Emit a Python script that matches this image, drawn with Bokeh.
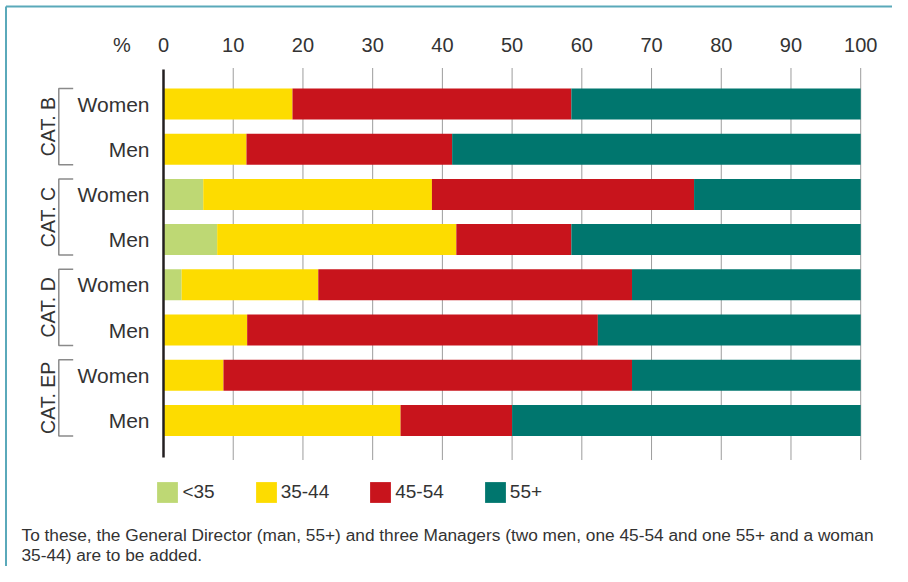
import math
from bokeh.plotting import figure
from bokeh.models import ColumnDataSource, Range1d, Legend, LegendItem, Label
from bokeh.core.properties import value
from bokeh.embed import file_html
from bokeh.resources import INLINE

# ---------------- data ----------------
categories = ["CAT. B", "CAT. C", "CAT. D", "CAT. EP"]
genders = ["Women", "Men"]
age_groups = ["<35", "35-44", "45-54", "55+"]
lt35   = [0.0, 0.0, 5.7, 7.7, 2.6, 0.0, 0.0, 0.0]
a35_44 = [18.5, 11.9, 32.8, 34.3, 19.6, 12.0, 8.6, 34.0]
a45_54 = [40.0, 29.5, 37.6, 16.5, 45.0, 50.3, 58.6, 16.0]
a55p   = [41.5, 58.6, 23.9, 41.5, 32.8, 37.7, 32.8, 50.0]
x_ticks = [0, 10, 20, 30, 40, 50, 60, 70, 80, 90, 100]
unit_label = "%"
footnote = ["To these, the General Director (man, 55+) and three Managers (two men, one 45-54 and one 55+ and a woman",
            "35-44) are to be added."]

# ---------------- styles / layout (pixels) ----------------
colors = ["#BED874", "#FDDC00", "#C8141C", "#00766E"]
TEXT = "#333333"
TEAL_FRAME = "#5AA9BA"
FONT = "Liberation Sans"
W, H = 892, 566
PX = 6.972      # pixels per percent point
X0 = 163        # pixel position of 0 %
ROW = 45.2      # row pitch (px)
ROW0 = 103.5    # first row centre (px from top)
BAR_H = 0.686


def xd(px):
    """horizontal pixel position -> data value"""
    return (px - X0) / PX


def yd(px):
    """vertical pixel position -> row value"""
    return (px - ROW0) / ROW


rows = list(range(len(categories) * len(genders)))
row_labels = [g for _ in categories for g in genders]
stackers = ["lt35", "a35_44", "a45_54", "a55p"]
source = ColumnDataSource(dict(row=rows, label=row_labels, lt35=lt35,
                               a35_44=a35_44, a45_54=a45_54, a55p=a55p))

x_range = Range1d(xd(0), xd(W))
y_range = Range1d(yd(H), yd(0))

p = figure(width=W, height=H, x_range=x_range, y_range=y_range,
           x_axis_location=None, y_axis_location=None,
           output_backend="svg", toolbar_location=None,
           min_border=0)
p.outline_line_color = None
p.background_fill_color = "white"
p.border_fill_color = "white"
p.xgrid.visible = False
p.ygrid.visible = False

# teal frame on the top and left edges
p.segment(x0=[xd(5.5), xd(5.5)], y0=[yd(6), yd(6)], x1=[xd(W), xd(5.5)], y1=[yd(6), yd(H)],
          line_color=TEAL_FRAME, line_width=2)

# tick labels (top) and unit label
p.text(x=x_ticks, y=[yd(44)] * len(x_ticks), text=[str(t) for t in x_ticks],
       text_align="center", text_baseline="middle",
       text_font=value(FONT), text_font_size=value("20px"), text_color=TEXT)
p.text(x=[xd(121.5)], y=[yd(44)], text=[unit_label],
       text_align="center", text_baseline="middle",
       text_font=value(FONT), text_font_size=value("20px"), text_color=TEXT)

# dotted grid lines
grid_x = [t for t in x_ticks if t > 0]
p.segment(x0=grid_x, y0=[yd(68)] * len(grid_x), x1=grid_x, y1=[yd(459)] * len(grid_x),
          line_color="#3a3a3a", line_width=1, line_dash="1 1")

# bars
renderers = p.hbar_stack(stackers, y="row", height=BAR_H, source=source,
                         fill_color=colors, line_color=None)

# zero axis line
p.segment(x0=[0], y0=[yd(69)], x1=[0], y1=[yd(457)],
          line_color="#231F20", line_width=2.5)

# row labels
p.text(x=0, y="row", text="label", source=source, x_offset=-14,
       text_align="right", text_baseline="middle",
       text_font=value(FONT), text_font_size=value("21px"), text_color=TEXT)

# category brackets and labels
bx, bx_end = xd(58.3), xd(72.7)
xs, ys, cy = [], [], []
for k, _ in enumerate(categories):
    r0 = k * len(genders)
    r1 = r0 + len(genders) - 1
    xs.append([bx_end, bx, bx, bx_end])
    ys.append([r0 - BAR_H / 2, r0 - BAR_H / 2, r1 + BAR_H / 2, r1 + BAR_H / 2])
    cy.append((r0 + r1) / 2)
p.multi_line(xs=xs, ys=ys, line_color="#8a8a8a", line_width=1.5)
p.text(x=[xd(47)] * len(categories), y=cy, text=categories,
       angle=math.pi / 2, text_align="center", text_baseline="middle",
       text_font=value(FONT), text_font_size=value("19.5px"), text_color=TEXT)

# legend
legend = Legend(items=[LegendItem(label=a, renderers=[r]) for a, r in zip(age_groups, renderers)],
                orientation="horizontal", location=(154.4, 61.4),
                glyph_width=26, glyph_height=26, label_standoff=2, spacing=38,
                padding=0, margin=0, border_line_color=None, background_fill_alpha=0,
                label_text_font=FONT, label_text_font_size="19px",
                label_text_color=TEXT, label_height=26)
p.add_layout(legend, "center")

# footnote
for i, line in enumerate(footnote):
    p.add_layout(Label(x=21, y=32 - 20 * i, x_units="screen", y_units="screen",
                       text=line, text_align="left", text_baseline="alphabetic",
                       text_font=FONT, text_font_size="17.3px", text_color=TEXT))

open("out.html", "w").write(file_html(p, INLINE))
